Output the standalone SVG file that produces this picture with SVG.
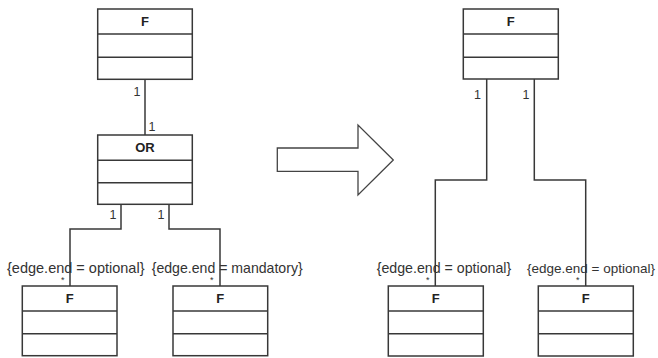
<svg xmlns="http://www.w3.org/2000/svg" width="658" height="358" viewBox="0 0 658 358">
  <style>
    .box rect, .box line { fill: #fff; stroke: #383838; stroke-width: 1.5; }
    .box line { fill: none; }
    .title { font-family: "Liberation Sans", Arial, sans-serif; font-weight: bold; font-size: 13px; fill: #222; text-anchor: middle; }
    .edge { fill: none; stroke: #383838; stroke-width: 1.5; }
    .mult { font-family: "Liberation Sans", Arial, sans-serif; font-size: 12.5px; fill: #333; }
    .cons { font-family: "Liberation Sans", Arial, sans-serif; font-size: 14.5px; fill: #333; }
    .cons-edge { font-size: 13.5px; }
    .star { font-family: "Liberation Sans", Arial, sans-serif; font-size: 9px; fill: #333; }
    .arrow { fill: #fff; stroke: #444; stroke-width: 1.3; stroke-linejoin: miter; }
  </style>
  <rect width="658" height="358" fill="#fff"/>

  <!-- connectors -->
  <g id="connectors">
    <path class="edge" d="M145,79 V135"/>
    <path class="edge" d="M121,204 V229 H70 V286"/>
    <path class="edge" d="M169,204 V229 H220 V286"/>
    <path class="edge" d="M486.7,79 V180 H435.3 V286"/>
    <path class="edge" d="M534.3,79 V180 H585.7 V286"/>
    <text class="mult" x="133.5" y="95.5">1</text>
    <text class="mult" x="148.5" y="130.5">1</text>
    <text class="mult" x="109.5" y="218.5">1</text>
    <text class="mult" x="157.5" y="218.5">1</text>
    <text class="mult" x="474" y="98.5">1</text>
    <text class="mult" x="522.5" y="98.5">1</text>
    <text class="cons" x="7" y="273">{edge.end = optional}</text>
    <text class="cons" x="151.7" y="273" textLength="151" lengthAdjust="spacingAndGlyphs">{edge.end = mandatory}</text>
    <text class="cons" x="376.7" y="273" textLength="134.5" lengthAdjust="spacingAndGlyphs">{edge.end = optional}</text>
    <text class="cons cons-edge" x="527" y="273">{edge.end = optional}</text>
    <text class="star" x="61" y="283">*</text>
    <text class="star" x="210" y="283">*</text>
    <text class="star" x="426" y="283">*</text>
    <text class="star" x="576" y="283">*</text>
  </g>

  <!-- left: F over OR -->
  <g id="left-f" class="box">
    <rect x="97.7" y="9" width="94.6" height="70.3"/>
    <line x1="97.7" y1="34" x2="192.3" y2="34"/>
    <line x1="97.7" y1="57.3" x2="192.3" y2="57.3"/>
    <text class="title" x="145" y="25.5">F</text>
  </g>
  <g id="left-or" class="box">
    <rect x="97.7" y="135" width="94.6" height="69.3"/>
    <line x1="97.7" y1="160.3" x2="192.3" y2="160.3"/>
    <line x1="97.7" y1="182.7" x2="192.3" y2="182.7"/>
    <text class="title" x="145" y="151.5">OR</text>
  </g>
  <g id="left-child-optional" class="box">
    <rect x="22.3" y="286" width="94.7" height="69.7"/>
    <line x1="22.3" y1="311" x2="117" y2="311"/>
    <line x1="22.3" y1="333.7" x2="117" y2="333.7"/>
    <text class="title" x="69.7" y="303">F</text>
  </g>
  <g id="left-child-mandatory" class="box">
    <rect x="173" y="286" width="94.7" height="69.7"/>
    <line x1="173" y1="311" x2="267.7" y2="311"/>
    <line x1="173" y1="333.7" x2="267.7" y2="333.7"/>
    <text class="title" x="220.3" y="303">F</text>
  </g>

  <!-- transformation arrow -->
  <g id="transform-arrow">
    <path class="arrow" d="M277.3,148 H358 V125 L393.3,160 L358,195 V171.3 H277.3 Z"/>
  </g>

  <!-- right: F with two direct children -->
  <g id="right-f" class="box">
    <rect x="463.3" y="9" width="95" height="70"/>
    <line x1="463.3" y1="34" x2="558.3" y2="34"/>
    <line x1="463.3" y1="57.3" x2="558.3" y2="57.3"/>
    <text class="title" x="510.8" y="25.5">F</text>
  </g>
  <g id="right-child-a" class="box">
    <rect x="388.3" y="286" width="95" height="70"/>
    <line x1="388.3" y1="311" x2="483.3" y2="311"/>
    <line x1="388.3" y1="333.7" x2="483.3" y2="333.7"/>
    <text class="title" x="435.8" y="303">F</text>
  </g>
  <g id="right-child-b" class="box">
    <rect x="538.3" y="286" width="95" height="70"/>
    <line x1="538.3" y1="311" x2="633.3" y2="311"/>
    <line x1="538.3" y1="333.7" x2="633.3" y2="333.7"/>
    <text class="title" x="585.8" y="303">F</text>
  </g>
</svg>
